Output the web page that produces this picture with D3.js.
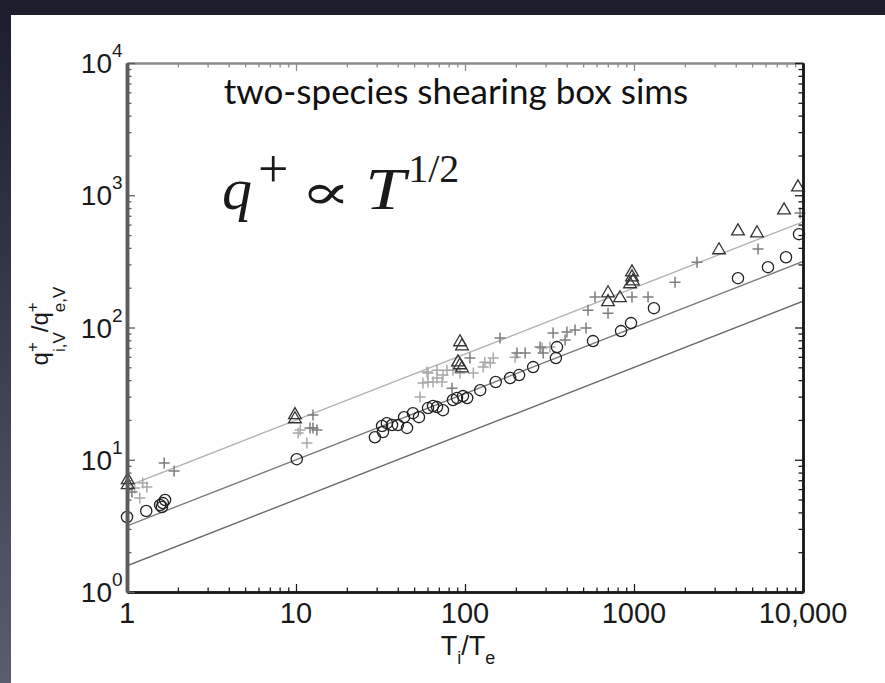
<!DOCTYPE html>
<html>
<head>
<meta charset="utf-8">
<script src="https://cdn.jsdelivr.net/npm/d3@7"></script>
<style>
  html, body { margin: 0; padding: 0; background: #1d1f2f; }
  svg { display: block; }
</style>
</head>
<body>
<svg id="chart" width="885" height="683"></svg>
<script>
// ---- axis ticks ----
const xTickValues = [1, 10, 100, 1000, 10000];
const xTickLabels = ["1", "10", "100", "1000", "10,000"];
const yTickExponents = [0, 1, 2, 3, 4];

// ---- reference scalings q+ = c * (Ti/Te)^(1/2) ----
const fitCoefficients = [6.3, 3.16, 1.58];
const fitExponent = 0.5;
const fitColors = ["#b4b4b4", "#7c7c7c", "#6a6a6a"];

// ---- simulation runs: circles ----
const circleTempRatio = [1.00, 1.30, 1.57, 1.63, 1.68, 1.61, 10.1, 29.3, 32.7, 32.3, 34.5, 37.0, 40.1, 43.6,
  45.4, 49.2, 53.4, 60.4, 64.7, 68.3, 74.1, 84.9, 89.7, 97.3, 103, 123, 152, 185, 209, 253, 345, 350,
  572, 838, 960, 1312, 4124, 6206, 7932, 9470];
const circleHeatRatio = [3.69, 4.10, 4.55, 4.70, 4.96, 4.39, 10.1, 14.8, 16.2, 18.0, 18.9, 18.3, 18.3, 21.0,
  17.4, 22.5, 21.0, 24.6, 25.5, 25.0, 23.7, 28.3, 29.3, 30.3, 29.3, 33.6, 38.7, 41.5, 43.7, 50.2, 58.7, 71.1,
  78.9, 93.9, 108, 140, 236, 286, 340, 508];

// ---- simulation runs: triangles ----
const triangleTempRatio = [1.01, 1.01, 9.86, 9.86, 93.4, 96.0, 90.9, 93.4, 96.0, 702, 702, 826, 973, 973,
  986, 947, 3185, 4124, 5343, 7724, 9333];
const triangleHeatRatio = [7.03, 6.44, 21.8, 20.3, 77.6, 72.3, 54.7, 52.0, 49.3, 182, 156, 167, 262, 240,
  224, 213, 385, 535, 517, 771, 1151];

// ---- simulation runs: crosses (two grey shades) ----
const plusDarkTempRatio = [1.66, 1.90, 1.07, 12.6, 12.1, 12.6, 13.3, 83.8, 107, 161, 203, 227, 278, 290, 332,
  391, 401, 448, 520, 534, 588, 702, 973, 1211, 1749, 2360, 5420, 9600];
const plusDarkHeatRatio = [9.44, 8.22, 5.70, 21.8, 17.4, 17.4, 16.8, 34.8, 58.7, 83.2, 64.1, 64.1, 71.1, 64.1, 90.7,
  80.3, 92.3, 95.6, 99.0, 135, 170, 128, 170, 170, 220, 312, 392, 733];
const plusLightTempRatio = [1.24, 1.31, 1.11, 1.19, 10.3, 10.6, 11.6, 54.2, 56.4, 60.4, 60.4, 64.7, 68.3, 73.1,
  74.1, 78.2, 68.3, 59.6, 84.9, 93.4, 112, 128, 131, 141, 147, 198, 286, 318];
const plusLightHeatRatio = [6.67, 6.22, 6.11, 5.13, 15.9, 16.8, 13.4, 29.8, 38.0, 45.2, 38.7, 38.7, 41.5, 38.7,
  43.7, 47.6, 47.6, 46.0, 47.6, 45.2, 45.2, 50.2, 54.7, 53.8, 58.7, 59.7, 69.9, 71.1];

const W = 885, H = 683;
const plot = { left: 127, right: 803, top: 63, bottom: 592 };
const svg = d3.select("#chart");

// slide background and white panel
const defs = svg.append("defs");
const bg = defs.append("linearGradient").attr("id", "slideBg")
  .attr("x1", 0).attr("y1", 0).attr("x2", 0).attr("y2", 1);
bg.append("stop").attr("offset", "0%").attr("stop-color", "#1b1d2b");
bg.append("stop").attr("offset", "100%").attr("stop-color", "#5a5d6f");
svg.append("rect").attr("width", W).attr("height", H).attr("fill", "url(#slideBg)");
svg.append("rect").attr("x", 11).attr("y", 15).attr("width", W - 11).attr("height", H - 15).attr("fill", "#ffffff");

const x = d3.scaleLog().domain([1, 1e4]).range([plot.left, plot.right]);
const y = d3.scaleLog().domain([1, 1e4]).range([plot.bottom, plot.top]);

defs.append("clipPath").attr("id", "plotClip").append("rect")
  .attr("x", plot.left).attr("y", plot.top)
  .attr("width", plot.right - plot.left).attr("height", plot.bottom - plot.top);

// minor tick positions 2..9 in every decade
function minorTicks() {
  const out = [];
  for (let e = 0; e < 4; e++) for (let m = 2; m <= 9; m++) out.push(m * Math.pow(10, e));
  return out;
}
const majors = d3.range(0, 5).map(e => Math.pow(10, e));
const minors = minorTicks();

function drawAxis(axisFn, scale, translate, color, width) {
  const g = svg.append("g").attr("transform", translate);
  g.append("g").call(axisFn(scale).tickValues(minors).tickSize(-4.5).tickSizeOuter(0).tickFormat(""));
  g.append("g").call(axisFn(scale).tickValues(majors).tickSize(-8).tickSizeOuter(0).tickFormat(""));
  g.selectAll(".tick line").attr("stroke", color).attr("stroke-width", 1.3);
  g.selectAll(".domain").attr("stroke", color).attr("stroke-width", width);
  return g;
}

// reference lines
const lineGen = d3.line().x(d => x(d[0])).y(d => y(d[1]));
const fits = svg.append("g").attr("clip-path", "url(#plotClip)");
fitCoefficients.forEach((c, i) => {
  const pts = [1, 1e4].map(t => [t, c * Math.pow(t, fitExponent)]);
  fits.append("path").attr("d", lineGen(pts)).attr("fill", "none")
    .attr("stroke", fitColors[i]).attr("stroke-width", 1.4);
});

// markers
const marks = svg.append("g");
function zip(a, b) { return a.map((v, i) => [v, b[i]]); }

const plusPath = "M-5.5,0H5.5M0,-5.5V5.5";
function drawPlus(xs, ys, color) {
  marks.append("g").selectAll("path").data(zip(xs, ys)).join("path")
    .attr("d", plusPath)
    .attr("transform", d => `translate(${x(d[0])},${y(d[1])})`)
    .attr("fill", "none").attr("stroke", color).attr("stroke-width", 1.5);
}
drawPlus(plusLightTempRatio, plusLightHeatRatio, "#a9a9a9");
drawPlus(plusDarkTempRatio, plusDarkHeatRatio, "#7d7d7d");

marks.append("g").selectAll("circle").data(zip(circleTempRatio, circleHeatRatio)).join("circle")
  .attr("cx", d => x(d[0])).attr("cy", d => y(d[1])).attr("r", 5.6)
  .attr("fill", "none").attr("stroke", "#222").attr("stroke-width", 1.3);

const tri = d3.symbol().type(d3.symbolTriangle).size(70);
marks.append("g").selectAll("path").data(zip(triangleTempRatio, triangleHeatRatio)).join("path")
  .attr("d", tri)
  .attr("transform", d => `translate(${x(d[0])},${y(d[1])})`)
  .attr("fill", "none").attr("stroke", "#333").attr("stroke-width", 1.3);

// box axes with inward ticks
drawAxis(d3.axisTop, x, `translate(0,${plot.top})`, "#8c8c8c", 2);
drawAxis(d3.axisRight, y, `translate(${plot.right},0)`, "#1a1a1a", 2.5);
drawAxis(d3.axisBottom, x, `translate(0,${plot.bottom})`, "#1a1a1a", 2.5);
drawAxis(d3.axisLeft, y, `translate(${plot.left},0)`, "#5c5c5c", 3.5);

const sans = "'Liberation Sans', Arial, sans-serif";

// x tick labels
svg.append("g").selectAll("text").data(xTickValues).join("text")
  .attr("x", d => x(d)).attr("y", 623)
  .attr("text-anchor", "middle")
  .attr("font-family", sans).attr("font-size", 29).attr("fill", "#1a1a1a")
  .text((d, i) => xTickLabels[i]);

// y tick labels: 10 with exponent
const yl = svg.append("g").selectAll("g").data(yTickExponents).join("g")
  .attr("transform", e => `translate(0,${y(Math.pow(10, e))})`);
yl.append("text").attr("x", 112).attr("y", 10).attr("text-anchor", "end")
  .attr("font-family", sans).attr("font-size", 28).attr("fill", "#1a1a1a").text("10");
yl.append("text").attr("x", 112).attr("y", -6).attr("text-anchor", "start")
  .attr("font-family", sans).attr("font-size", 19).attr("fill", "#1a1a1a").text(e => e);

// sequential text layout with stacked super/subscripts; sx stretches a glyph horizontally
function layoutPieces(g, pieces) {
  let cursor = 0;
  pieces.forEach(p => {
    const parts = Array.isArray(p) ? p : [p];
    let w = 0;
    parts.forEach(q => {
      const sx = q.sx || 1;
      const t = g.append("text")
        .attr("transform", `translate(${cursor},${q.dy || 0}) scale(${sx},1)`)
        .attr("font-family", q.family || sans).attr("font-size", q.size)
        .attr("font-style", q.italic ? "italic" : "normal")
        .attr("fill", q.color || "#1a1a1a").text(q.text);
      w = Math.max(w, t.node().getComputedTextLength() * sx);
    });
    cursor += w + (parts[0].gap || 0);
  });
  return cursor;
}

// x axis title T_i/T_e
const xt = svg.append("g");
const xtLen = layoutPieces(xt, [
  { text: "T", size: 27 }, { text: "i", size: 18, dy: 9 }, { text: "/", size: 27 },
  { text: "T", size: 27 }, { text: "e", size: 18, dy: 9 }
]);
xt.attr("transform", `translate(${468 - xtLen / 2},655)`);

// y axis title q+_{i,V}/q+_{e,V}
const yt = svg.append("g");
const ytLen = layoutPieces(yt, [
  { text: "q", size: 24 },
  [{ text: "+", size: 17, dy: -10 }, { text: "i,V", size: 17, dy: 17 }],
  { text: "/", size: 24 },
  { text: "q", size: 24 },
  [{ text: "+", size: 17, dy: -10 }, { text: "e,V", size: 17, dy: 17 }]
]);
yt.attr("transform", `translate(48,${326 + ytLen / 2}) rotate(-90)`);

// panel heading
svg.append("text").attr("x", 456).attr("y", 104).attr("text-anchor", "middle")
  .attr("font-family", "Lato, 'Open Sans', sans-serif").attr("font-size", 35).attr("fill", "#111")
  .text("two-species shearing box sims");

// scaling relation
const serif = "'Liberation Serif', 'DejaVu Serif', serif";
const eq = svg.append("g").attr("transform", "translate(222,209)");
layoutPieces(eq, [
  { text: "q", size: 60, italic: true, family: serif, gap: 6 },
  { text: "+", size: 54, dy: -22, family: serif, gap: 12 },
  { text: "∝", size: 50, sx: 1.5, family: serif, gap: 14 },
  { text: "T", size: 60, italic: true, family: serif, sx: 1.2, gap: 3 },
  { text: "1/2", size: 40, dy: -27, family: serif }
]);
</script>
</body>
</html>
